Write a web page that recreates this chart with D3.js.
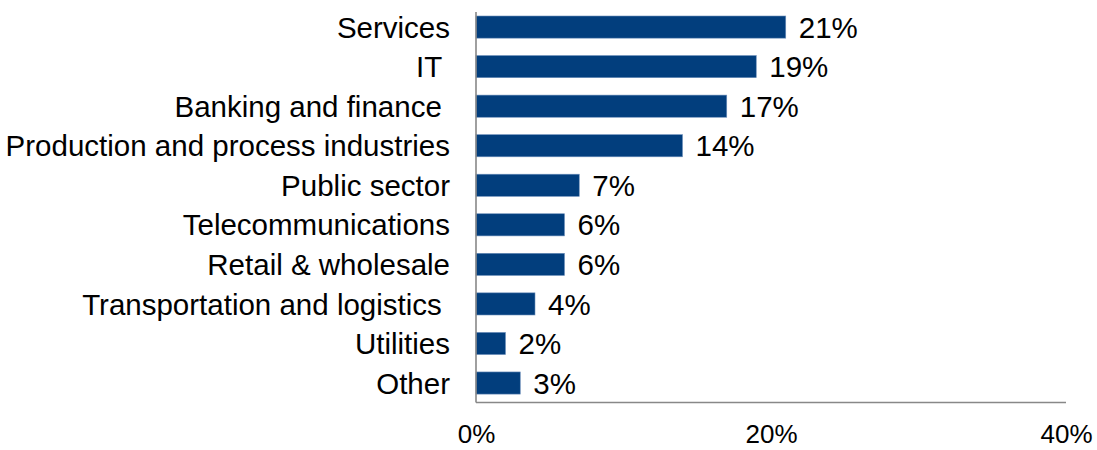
<!DOCTYPE html>
<html>
<head>
<meta charset="utf-8">
<script src="https://cdn.jsdelivr.net/npm/d3@7/dist/d3.min.js"></script>
<style>
  html, body { margin: 0; padding: 0; background: #fff; }
  svg { display: block; }
  text { font-family: "Liberation Sans", Arial, Helvetica, sans-serif; fill: #000; white-space: pre; }
</style>
</head>
<body>
<svg id="chart" width="1097" height="450"></svg>
<script>
// Share of respondents by industry
const categories = [
  "Services",
  "IT ",
  "Banking and finance ",
  "Production and process industries",
  "Public sector",
  "Telecommunications",
  "Retail & wholesale",
  "Transportation and logistics ",
  "Utilities",
  "Other"
];
const values = [21, 19, 17, 14, 7, 6, 6, 4, 2, 3];
const tickValues = [0, 20, 40];

const svg = d3.select("#chart");

const x = d3.scaleLinear().domain([0, 40]).range([476, 1066]);
const y = d3.scaleBand()
  .domain(categories)
  .range([7.3, 402.8])
  .paddingInner(0.44)
  .paddingOuter(0.22);

const rows = categories.map((c, i) => ({ c, v: values[i] }));

// bars
svg.append("g").selectAll("rect")
  .data(rows)
  .join("rect")
  .attr("x", x(0))
  .attr("y", d => y(d.c))
  .attr("width", d => x(d.v) - x(0))
  .attr("height", y.bandwidth())
  .attr("fill", "#023e7d")
  .attr("stroke", "#6d8fbb")
  .attr("stroke-width", 0.6);

// value labels
svg.append("g").selectAll("text")
  .data(rows)
  .join("text")
  .attr("x", d => x(d.v) + 13)
  .attr("y", d => y(d.c) + y.bandwidth() / 2)
  .attr("dy", "0.36em")
  .attr("font-size", 29.5)
  .text(d => d.v + "%");

// category axis
const yAxis = svg.append("g")
  .attr("transform", `translate(${x(0)},0)`)
  .call(d3.axisLeft(y).tickSize(0).tickPadding(26));
yAxis.select(".domain").remove();
yAxis.selectAll("text")
  .attr("font-size", 29.5)
  .attr("font-family", null)
  .attr("dy", "0.36em");

// value axis labels
const xAxis = svg.append("g")
  .attr("transform", "translate(0,402.5)")
  .call(d3.axisBottom(x).tickValues(tickValues).tickSize(0).tickPadding(22)
    .tickFormat(d => d + "%"));
xAxis.select(".domain").remove();
xAxis.selectAll("text")
  .attr("font-size", 26)
  .attr("font-family", null);

// frame lines
svg.append("line")
  .attr("x1", x(0)).attr("x2", x(0))
  .attr("y1", 12).attr("y2", 402.5)
  .attr("stroke", "#888").attr("stroke-width", 1.6);
svg.append("line")
  .attr("x1", x(0)).attr("x2", x(40))
  .attr("y1", 402.5).attr("y2", 402.5)
  .attr("stroke", "#888").attr("stroke-width", 1.6);
</script>
</body>
</html>
